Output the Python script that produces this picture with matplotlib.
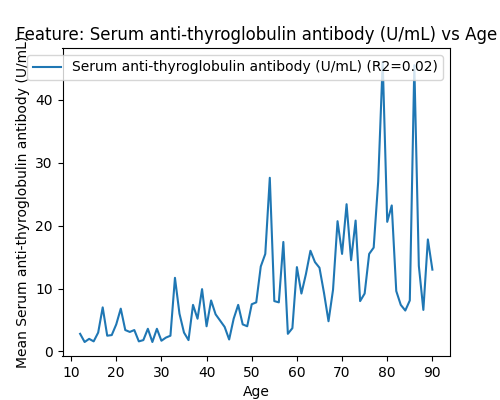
import matplotlib
matplotlib.use("Agg")
import matplotlib.pyplot as plt

FEATURE = "Serum anti-thyroglobulin antibody (U/mL)"
R2 = 0.02

ages = list(range(12, 91))
mean_values = [
    2.8, 1.5, 2.0, 1.6, 3.0, 7.0, 2.5, 2.6, 4.3, 6.8,      # 12-21
    3.4, 3.1, 3.4, 1.6, 1.8, 3.6, 1.5, 3.6, 1.7, 2.2,      # 22-31
    2.5, 11.7, 6.0, 3.0, 1.8, 7.4, 5.2, 9.9, 4.0, 8.1,     # 32-41
    5.9, 4.9, 3.9, 1.9, 5.2, 7.4, 4.3, 4.0, 7.5, 7.8,      # 42-51
    13.5, 15.5, 27.6, 8.0, 7.8, 17.4, 2.8, 3.7, 13.4, 9.2,  # 52-61
    12.3, 16.0, 14.2, 13.3, 9.3, 4.8, 9.8, 20.7, 15.5, 23.4,  # 62-71
    14.5, 20.8, 8.0, 9.2, 15.5, 16.5, 27.0, 46.0, 20.6, 23.2,  # 72-81
    9.6, 7.4, 6.5, 8.1, 45.5, 13.6, 6.6, 17.8, 13.0,        # 82-90
]

fig, ax = plt.subplots(figsize=(5, 4), dpi=100)
ax.plot(ages, mean_values, label=f"{FEATURE} (R2={R2:.2f})")
ax.set_title(f"Feature: {FEATURE} vs Age")
ax.set_xlabel("Age")
ax.set_ylabel(f"Mean {FEATURE}")
ax.legend(loc="upper right")

fig.savefig("out.png")
